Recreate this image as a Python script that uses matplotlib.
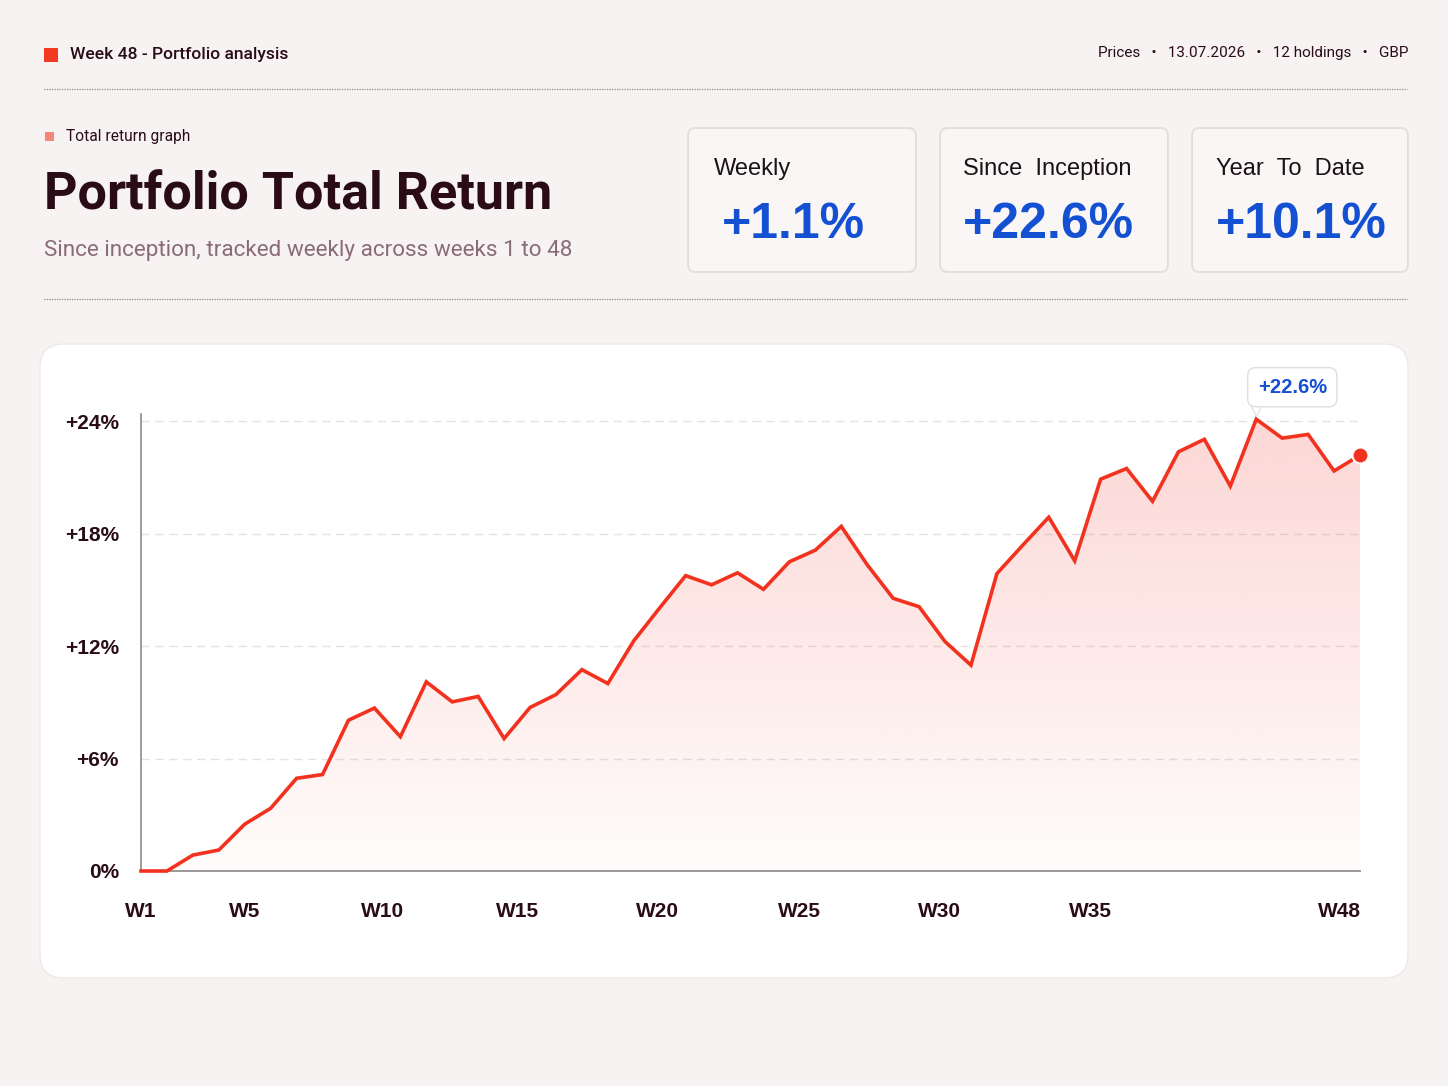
import numpy as np
import matplotlib
matplotlib.use("Agg")
import matplotlib.pyplot as plt
from matplotlib import font_manager
from matplotlib.patches import FancyBboxPatch, Rectangle
from matplotlib.transforms import offset_copy

# ---- data ----
weeks = list(range(1, 49))
total_return = [
    0.0, 0.0, 0.85, 1.12, 2.5, 3.35, 4.95, 5.15, 8.05, 8.7,
    7.17, 10.1, 9.03, 9.32, 7.07, 8.73, 9.42, 10.75, 10.01, 12.29,
    14.05, 15.77, 15.28, 15.92, 15.04, 16.51, 17.13, 18.4, 16.35, 14.56,
    14.11, 12.25, 10.99, 15.88, 17.4, 18.89, 16.56, 20.92, 21.49, 19.74,
    22.38, 23.05, 20.55, 24.12, 23.11, 23.31, 21.36, 22.2,
]
y_ticks = [0, 6, 12, 18, 24]
y_tick_labels = ["0%", "+6%", "+12%", "+18%", "+24%"]
x_tick_labels = ["W1", "W5", "W10", "W15", "W20", "W25", "W30", "W35", "W48"]
# where the reference puts those labels, in week units
x_tick_pos = [1, 5, 10.3, 15.5, 20.9, 26.4, 31.8, 37.6, 47.2]

kpi_names = ["Weekly", "Since  Inception", "Year  To  Date"]
kpi_values = ["+1.1%", "+22.6%", "+10.1%"]
peak_label = "+22.6%"

header = "Week 48 - Portfolio analysis"
meta = "Prices   \u2022   13.07.2026   \u2022   12 holdings   \u2022   GBP"
kicker = "Total return graph"
title = "Portfolio Total Return"
subtitle = "Since inception, tracked weekly across weeks 1 to 48"

# ---- style ----
BG = "#f7f3f2"
DARK = "#2a0b18"
RED = "#f2321f"
BLUE = "#1450d2"
MUTED = "#8a6b79"


def pick_font(*names):
    for n in names:
        try:
            font_manager.findfont(n, fallback_to_default=False)
            return n
        except Exception:
            pass
    return "DejaVu Sans"


NARROW = pick_font("Roboto", "Liberation Sans")
SANS = pick_font("Liberation Sans", "DejaVu Sans")
TITLE = pick_font("Roboto", "Inter", "Liberation Sans")

W, H = 1448, 1086
fig = plt.figure(figsize=(W / 100, H / 100), dpi=100, facecolor=BG)

# background axes in pixel units (origin top-left)
bg = fig.add_axes([0, 0, 1, 1], zorder=0)
bg.set_xlim(0, W)
bg.set_ylim(H, 0)
bg.axis("off")

# header row
bg.add_patch(Rectangle((44, 48), 14, 14, color="#f23a23", lw=0))
bg.text(70, 55, header, fontsize=12.6, family=NARROW, color=DARK, va="center",
        fontweight="medium")
bg.text(1408, 53, meta, fontsize=11, family=NARROW, color=DARK, va="center", ha="right")

for yy in (89, 299):
    bg.plot([44, 1407], [yy, yy], color="#8f8888", lw=0.9, ls=(0, (1, 1)))

# title block
bg.add_patch(Rectangle((45, 132), 9, 9, color="#f4877a", lw=0))
bg.text(66, 137, kicker, fontsize=11.2, family=NARROW, color=DARK, va="center")
bg.text(44, 209, title, fontsize=37.5, family=TITLE, color=DARK, fontweight="bold",
        va="baseline")
bg.text(44, 256, subtitle, fontsize=16.2, family=TITLE, color=MUTED, va="baseline")

# KPI cards
card_x = [688, 940, 1192]
card_w = [228, 228, 216]
label_dx = [26, 23, 24]
value_dx = [34, 23, 24]
for i in range(3):
    bg.add_patch(FancyBboxPatch((card_x[i], 128), card_w[i], 144,
                                boxstyle="round,pad=0,rounding_size=8",
                                fc="#f9f6f5", ec="#e3dcdb", lw=1.3))
    bg.text(card_x[i] + label_dx[i], 169, kpi_names[i], fontsize=17, family=SANS,
            color="#1a1214", va="center")
    bg.text(card_x[i] + value_dx[i], 225, kpi_values[i], fontsize=36, family=SANS,
            color=BLUE, fontweight="bold", va="center")

# chart card
bg.add_patch(FancyBboxPatch((40, 344), 1368, 634, boxstyle="round,pad=0,rounding_size=24",
                            fc="white", ec="#efe9e8", lw=1.0))

# ---- chart ----
left, right, top, bottom = 141, 1360, 414, 871
ax = fig.add_axes([left / W, 1 - bottom / H, (right - left) / W, (bottom - top) / H], zorder=1)
ax.set_facecolor("none")
ax.set_xlim(1, 48)
ax.set_ylim(0, 24.4)

for t in y_ticks[1:]:
    ax.axhline(t, color="#e6e2e2", lw=1.0, ls=(0, (6, 4)), zorder=0)

x = np.array(weeks, dtype=float)
y = np.array(total_return)

fill = ax.fill_between(x, y, 0, facecolor="none", edgecolor="none")
grad = np.zeros((256, 1, 4))
grad[..., 0] = 240 / 255
grad[..., 1] = 50 / 255
grad[..., 2] = 40 / 255
grad[:, 0, 3] = np.linspace(0.2, 0.015, 256)
im = ax.imshow(grad, extent=(1, 48, 0, 24.4), aspect="auto", origin="upper", zorder=1)
im.set_clip_path(fill.get_paths()[0], transform=ax.transData)

ax.plot(x, y, color=RED, lw=2.6, solid_joinstyle="miter", zorder=3, clip_on=False)
ax.plot(x[-1], y[-1], "o", ms=11.5, color=RED, mec="white", mew=1.5, zorder=4, clip_on=False)

# tooltip on the peak
ipk = int(np.argmax(y))
ax.annotate(peak_label, xy=(x[ipk], y[ipk]), xytext=(36, 32), textcoords="offset pixels",
            ha="center", va="center", fontsize=14.5, family=SANS, fontweight="bold", color=BLUE,
            bbox=dict(boxstyle="round,pad=0.5,rounding_size=0.4", fc="white", ec="#e3dede", lw=1.0),
            zorder=6, annotation_clip=False)
tip = offset_copy(ax.transData, fig=fig, x=0, y=10, units="dots")
ax.plot(x[ipk], y[ipk], marker="v", ms=10, color="white", mec="#e3dede", mew=0.8,
        transform=tip, zorder=5, clip_on=False)

for s in ("top", "right"):
    ax.spines[s].set_visible(False)
ax.spines["left"].set_color("#8c8a8a")
ax.spines["bottom"].set_color("#9a9898")
ax.spines["left"].set_linewidth(1.2)
ax.spines["bottom"].set_linewidth(1.4)
ax.spines["left"].set_zorder(2)

ax.set_yticks(y_ticks)
ax.set_yticklabels(y_tick_labels)
ax.set_xticks(x_tick_pos)
ax.set_xticklabels(x_tick_labels)
ax.tick_params(axis="both", length=0, labelsize=15, labelcolor=DARK)
ax.tick_params(axis="y", pad=16)
ax.tick_params(axis="x", pad=22)
for lab in ax.get_xticklabels() + ax.get_yticklabels():
    lab.set_fontweight("bold")
    lab.set_family(SANS)

fig.savefig("out.png", dpi=100, facecolor=BG)
